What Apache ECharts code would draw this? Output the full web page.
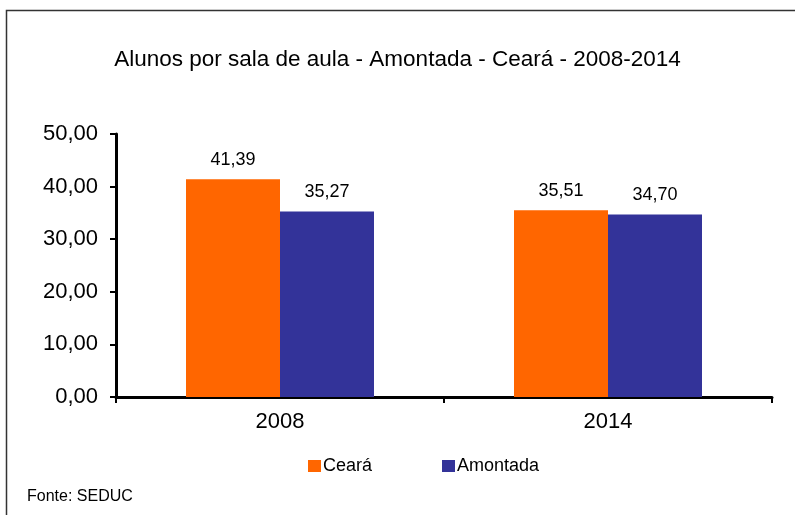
<!DOCTYPE html>
<html>
<head>
<meta charset="utf-8">
<script src="https://cdn.jsdelivr.net/npm/echarts@6/dist/echarts.min.js"></script>
<style>
  html, body { margin: 0; padding: 0; background: #fff; }
  #chart { width: 795px; height: 515px; }
</style>
</head>
<body>
<div id="chart"></div>
<script>
// dados do gráfico
const anos = ["2008", "2014"];
const ceara = [41.39, 35.51];
const amontada = [35.27, 34.70];
const yTicks = [0, 10, 20, 30, 40, 50];

const fmt = v => v.toFixed(2).replace(".", ",");

const chart = echarts.init(document.getElementById("chart"));

const labelStyle = {
  show: true,
  position: "top",
  distance: 10,
  color: "#000",
  fontSize: 18,
  fontFamily: "Liberation Sans",
  formatter: p => fmt(p.value)
};

chart.setOption({
  animation: false,
  backgroundColor: "#fff",
  title: {
    text: "Alunos por sala de aula - Amontada - Ceará - 2008-2014",
    left: "center",
    top: 43,
    textStyle: {
      color: "#000",
      fontSize: 22.5,
      fontWeight: "normal",
      fontFamily: "Liberation Sans"
    }
  },
  legend: {
    top: 452,
    left: 303,
    itemWidth: 13,
    itemHeight: 12,
    itemGap: 70,
    icon: "rect",
    textStyle: {
      color: "#000",
      fontSize: 18,
      fontFamily: "Liberation Sans",
      padding: [0, 0, 0, -3]
    },
    data: ["Ceará", "Amontada"]
  },
  grid: {
    left: 116,
    right: 23,
    top: 134,
    bottom: 118,
    containLabel: false
  },
  xAxis: {
    type: "category",
    data: anos,
    axisLine: { lineStyle: { color: "#000", width: 3 } },
    axisTick: { show: true, interval: 0, length: 6, lineStyle: { color: "#000", width: 2 } },
    axisLabel: {
      color: "#000",
      fontSize: 22,
      fontFamily: "Liberation Sans",
      margin: 14
    }
  },
  yAxis: {
    type: "value",
    min: 0,
    max: 50,
    interval: 10,
    splitLine: { show: false },
    axisLine: { show: true, lineStyle: { color: "#000", width: 3 } },
    axisTick: { show: true, length: 6, lineStyle: { color: "#000", width: 2 } },
    axisLabel: {
      color: "#000",
      fontSize: 22,
      fontFamily: "Liberation Sans",
      margin: 18,
      formatter: v => (yTicks.includes(v) ? fmt(v) : "")
    }
  },
  series: [
    {
      name: "Ceará",
      type: "bar",
      data: ceara,
      barWidth: 94,
      barGap: "0%",
      itemStyle: { color: "#FF6600" },
      label: labelStyle
    },
    {
      name: "Amontada",
      type: "bar",
      data: amontada,
      barWidth: 94,
      barGap: "0%",
      itemStyle: { color: "#333399" },
      label: labelStyle
    }
  ],
  graphic: [
    {
      type: "rect",
      shape: { x: 6.5, y: 10.5, width: 800, height: 520 },
      style: { fill: "none", stroke: "#333", lineWidth: 1.5 },
      silent: true
    },
    {
      type: "text",
      left: 27,
      top: 489,
      style: {
        text: "Fonte: SEDUC",
        fill: "#000",
        fontSize: 16,
        fontFamily: "Liberation Sans"
      }
    }
  ]
});
</script>
</body>
</html>
